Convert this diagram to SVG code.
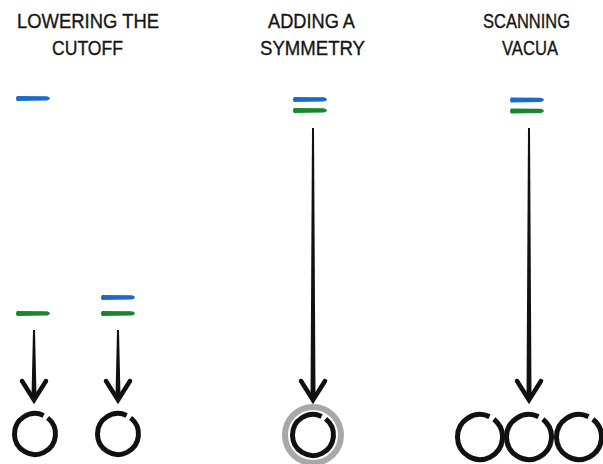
<svg xmlns="http://www.w3.org/2000/svg" width="603" height="464" viewBox="0 0 603 464">
<defs>
<style>
.t{font-family:"Liberation Sans",Arial,sans-serif;font-size:21px;fill:#151515;stroke:#151515;stroke-width:0.35;}
.blue{fill:#1a6cc8;}
.green{fill:#15882e;}
.shaft{fill:#111;}
.head{fill:none;stroke:#111;stroke-width:4.5;stroke-linejoin:miter;stroke-linecap:round;}
.ring{fill:none;stroke:#111;stroke-width:5;stroke-linecap:butt;}
.halo{fill:none;stroke:#a8a8a8;stroke-width:6;}
</style>
<path id="dash" d="M0,-2.6 L30,-2.2 Q36,0 30,2 L0,2.6 Q-2,0 0,-2.6 Z"/>
<g id="arrowhead"><polyline class="head" points="-12,-19 0,0 12,-19"/></g>
<path id="ringS" class="ring" d="M8.66,-18.58 A20.5,20.5 0 1 0 12.62,-16.15"/>
<path id="ringL" class="ring" d="M9.51,-20.39 A22.5,22.5 0 1 0 13.85,-17.73"/>
</defs>

<g id="labels">
<text class="t" x="17" y="28" textLength="142" lengthAdjust="spacingAndGlyphs">LOWERING THE</text>
<text class="t" x="52" y="55" textLength="71" lengthAdjust="spacingAndGlyphs">CUTOFF</text>
<text class="t" x="268" y="28" textLength="87" lengthAdjust="spacingAndGlyphs">ADDING A</text>
<text class="t" x="260" y="55" textLength="105" lengthAdjust="spacingAndGlyphs">SYMMETRY</text>
<text class="t" x="483" y="28" textLength="87" lengthAdjust="spacingAndGlyphs">SCANNING</text>
<text class="t" x="502" y="55" textLength="56" lengthAdjust="spacingAndGlyphs">VACUA</text>
</g>

<g id="levels">
<use href="#dash" class="blue" x="17" y="98.5"/>
<use href="#dash" class="green" x="17" y="313.5"/>
<use href="#dash" class="blue" x="102" y="297.5"/>
<use href="#dash" class="green" x="102" y="313.5"/>
<use href="#dash" class="blue" x="294" y="99.5"/>
<use href="#dash" class="green" x="294" y="110.5"/>
<use href="#dash" class="blue" x="511" y="100"/>
<use href="#dash" class="green" x="511" y="111"/>
</g>

<g id="connectors">
<path class="shaft" d="M33,330 L35,330 L36.5,396 L31.5,396 Z"/>
<use href="#arrowhead" x="34" y="400"/>
<path class="shaft" d="M117,330 L119,330 L120.5,396 L115.5,396 Z"/>
<use href="#arrowhead" x="118" y="400"/>
<path class="shaft" d="M312,128 L314,128 L315.5,396 L310.5,396 Z"/>
<use href="#arrowhead" x="313" y="400"/>
<path class="shaft" d="M528,128 L530,128 L531.5,396 L526.5,396 Z"/>
<use href="#arrowhead" x="529" y="400"/>
</g>

<g id="vacuum-1"><use href="#ringS" x="35" y="434"/></g>
<g id="vacuum-2"><use href="#ringS" x="118" y="434"/></g>
<g id="vacuum-sym">
<circle class="halo" cx="313" cy="435" r="28"/>
<use href="#ringS" x="313" y="435"/>
</g>
<g id="vacuum-a"><use href="#ringL" x="480" y="437"/></g>
<g id="vacuum-b"><use href="#ringL" x="529" y="437"/></g>
<g id="vacuum-c"><use href="#ringL" x="579" y="437"/></g>
</svg>
